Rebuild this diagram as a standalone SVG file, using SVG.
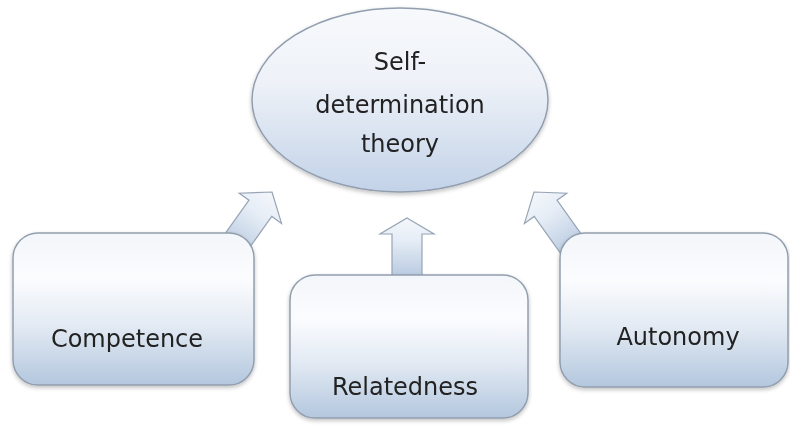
<svg xmlns="http://www.w3.org/2000/svg" width="790" height="428" viewBox="0 0 790 428">
  <defs>
    <linearGradient id="boxFill" x1="0" y1="0" x2="0" y2="1">
      <stop offset="0" stop-color="#f3f6fa"/>
      <stop offset="0.3" stop-color="#fbfcfe"/>
      <stop offset="0.6" stop-color="#e4ebf4"/>
      <stop offset="1" stop-color="#b3c7de"/>
    </linearGradient>
    <linearGradient id="ovalFill" x1="0" y1="0" x2="0" y2="1">
      <stop offset="0" stop-color="#f7f9fc"/>
      <stop offset="0.4" stop-color="#eef2f8"/>
      <stop offset="1" stop-color="#c2d2e8"/>
    </linearGradient>
    <!-- light at the tip, bluer toward the base -->
    <linearGradient id="arrowFill" x1="0" y1="0" x2="0" y2="1">
      <stop offset="0" stop-color="#f4f7fb"/>
      <stop offset="0.35" stop-color="#e6edf6"/>
      <stop offset="1" stop-color="#b4c7df"/>
    </linearGradient>
    <filter id="soft" x="-10%" y="-10%" width="120%" height="125%">
      <feGaussianBlur in="SourceAlpha" stdDeviation="2"/>
      <feOffset dy="1.5" result="b"/>
      <feComponentTransfer><feFuncA type="linear" slope="0.25"/></feComponentTransfer>
      <feMerge><feMergeNode/><feMergeNode in="SourceGraphic"/></feMerge>
    </filter>
  </defs>
  <style>
    .box { fill: url(#boxFill); stroke: #929eae; stroke-width: 1.5; }
    .oval { fill: url(#ovalFill); stroke: #929eae; stroke-width: 1.5; }
    .arrow { fill: url(#arrowFill); stroke: #97a4b5; stroke-width: 1.2; stroke-linejoin: miter; }
    .label { font-family: "DejaVu Sans", "Liberation Sans", sans-serif; font-size: 24px; fill: #222222; text-anchor: middle; }
  </style>

  <rect width="790" height="428" fill="#ffffff"/>

  <!-- block arrows pointing at the theory oval; drawn beneath the boxes -->
  <g id="connectors">
    <path class="arrow" transform="translate(272,192) rotate(35.5)" d="M0,0 L26,20 L14,20 L14,75 L-14,75 L-14,20 L-26,20 Z"/>
    <path class="arrow" transform="translate(407,218)" d="M0,0 L27,16 L15,16 L15,62 L-15,62 L-15,16 L-27,16 Z"/>
    <path class="arrow" transform="translate(534,192) rotate(-35.5)" d="M0,0 L26,20 L14,20 L14,75 L-14,75 L-14,20 L-26,20 Z"/>
  </g>

  <g id="theory" filter="url(#soft)">
    <ellipse class="oval" cx="400" cy="100" rx="148" ry="92"/>
    <text class="label" x="400" y="70">Self-</text>
    <text class="label" x="400" y="113">determination</text>
    <text class="label" x="400" y="152">theory</text>
  </g>

  <g id="competence" filter="url(#soft)">
    <rect class="box" x="13" y="233" width="241" height="152" rx="25" ry="25"/>
    <text class="label" x="127" y="347">Competence</text>
  </g>

  <g id="relatedness" filter="url(#soft)">
    <rect class="box" x="290" y="275" width="238" height="143" rx="25" ry="25"/>
    <text class="label" x="405" y="395">Relatedness</text>
  </g>

  <g id="autonomy" filter="url(#soft)">
    <rect class="box" x="560" y="233" width="228" height="154" rx="25" ry="25"/>
    <text class="label" x="678" y="345">Autonomy</text>
  </g>
</svg>
